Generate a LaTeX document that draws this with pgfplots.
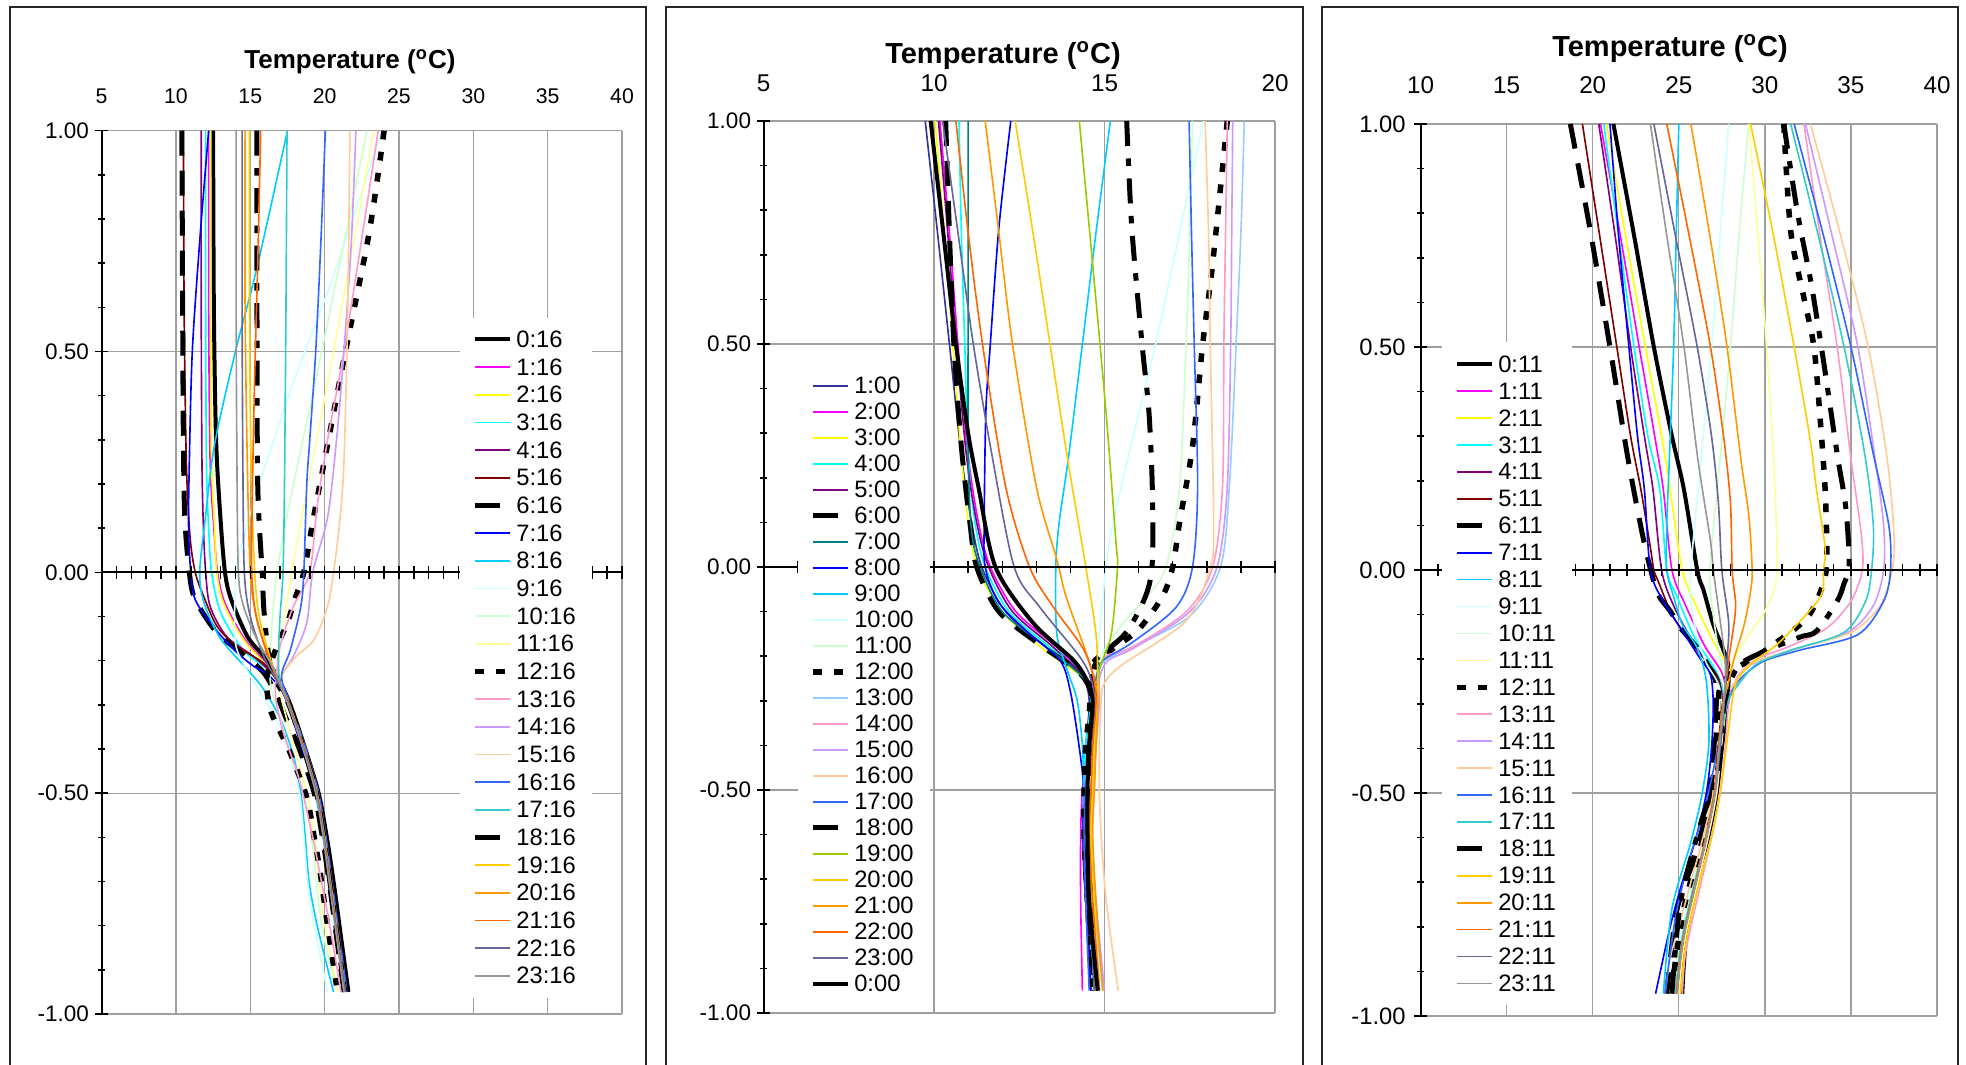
\documentclass[border=0pt]{standalone}
\usepackage{fontspec}
\setmainfont{Liberation Sans}
\usepackage{pgfplots}
\pgfplotsset{compat=1.18}
\definecolor{cMag}{HTML}{FF00FF}
\definecolor{cYel}{HTML}{FFFF00}
\definecolor{cCya}{HTML}{00FFFF}
\definecolor{cPur}{HTML}{800080}
\definecolor{cDred}{HTML}{800000}
\definecolor{cBlu}{HTML}{0000FF}
\definecolor{cSky}{HTML}{00CCFF}
\definecolor{cLtu}{HTML}{CCFFFF}
\definecolor{cLgr}{HTML}{CCFFCC}
\definecolor{cLye}{HTML}{FFFF99}
\definecolor{cRose}{HTML}{FF99CC}
\definecolor{cLav}{HTML}{CC99FF}
\definecolor{cTan}{HTML}{FFCC99}
\definecolor{cRoy}{HTML}{3366FF}
\definecolor{cAqua}{HTML}{33CCCC}
\definecolor{cGold}{HTML}{FFCC00}
\definecolor{cLor}{HTML}{FF9900}
\definecolor{cOr}{HTML}{FF6600}
\definecolor{cBg}{HTML}{666699}
\definecolor{cGr}{HTML}{969696}
\definecolor{cInd}{HTML}{333399}
\definecolor{cTeal}{HTML}{008080}
\definecolor{cPbl}{HTML}{99CCFF}
\definecolor{cLime}{HTML}{99CC00}
\pgfplotsset{
 L0/.style={black,line width=1.6pt,solid},
 L6/.style={black,line width=2pt,dash pattern=on 10pt off 6pt},
 L12/.style={black,line width=2.2pt,dash pattern=on 3.5pt off 5pt},
 L18/.style={black,line width=2pt,dash pattern=on 10pt off 5pt on 3pt off 5pt},
 Lt/.style={line width=0.65pt,solid},
 mainax/.style={anchor=south west, scale only axis, ymin=-1, ymax=1,
   axis x line=box, axis y line=right, axis line style={-, draw=gray!75, line width=0.5pt},
   xticklabel pos=right, xtick style={draw=none},
   ytick={-0.5,0.5}, yticklabels={}, ytick style={draw=none},
   extra y ticks={-1}, extra y tick labels={}, extra y tick style={grid style={gray!75, line width=1.1pt}},
   xmajorgrids, ymajorgrids, grid style={gray!75, line width=0.5pt},
   every axis plot/.append style={no markers, smooth}},
 lineax/.style={anchor=south west, scale only axis, ymin=-1, ymax=1,
   axis x line=middle, axis y line=left, axis line style={-, black, line width=0.75pt},
   xticklabels={}, ytick={-1,-0.5,0,0.5,1}, yticklabels={-1.00,-0.50,0.00,0.50,1.00},
   minor y tick num=4, tick align=center, major tick length=5pt, minor tick length=3pt,
   every tick/.style={black, line width=0.6pt}},
 legax/.style={anchor=south west, scale only axis, ymin=-1, ymax=1, hide axis,
   legend cell align=left,
   legend image code/.code={\draw[##1] (0pt,0pt) -- (14pt,0pt);},
   legend style={anchor=north west, draw=none, fill=white, inner xsep=5pt, inner ysep=5pt,
     font=\fontsize{9.5}{10}\selectfont,
     nodes={inner xsep=1.5pt, inner ysep=0pt, text height=6.9pt, text depth=0.5pt}}},
}
\newcommand{\legimgsA}{%
 \addlegendimage{L0}\addlegendimage{cMag,Lt}\addlegendimage{cYel,Lt}\addlegendimage{cCya,Lt}%
 \addlegendimage{cPur,Lt}\addlegendimage{cDred,Lt}\addlegendimage{L6}\addlegendimage{cBlu,Lt}%
 \addlegendimage{cSky,Lt}\addlegendimage{cLtu,Lt}\addlegendimage{cLgr,Lt}\addlegendimage{cLye,Lt}%
 \addlegendimage{L12}\addlegendimage{cRose,Lt}\addlegendimage{cLav,Lt}\addlegendimage{cTan,Lt}%
 \addlegendimage{cRoy,Lt}\addlegendimage{cAqua,Lt}\addlegendimage{L18}\addlegendimage{cGold,Lt}%
 \addlegendimage{cLor,Lt}\addlegendimage{cOr,Lt}\addlegendimage{cBg,Lt}\addlegendimage{cGr,Lt}}
\begin{document}
\begin{tikzpicture}
% frames
\draw[line width=0.6pt, black!85] (4pt,-2pt) -- (4pt,422.8pt) -- (258.4pt,422.8pt) -- (258.4pt,-2pt);
\draw[line width=0.6pt, black!85] (266.4pt,-2pt) -- (266.4pt,422.8pt) -- (521.2pt,422.8pt) -- (521.2pt,-2pt);
\draw[line width=0.6pt, black!85] (528.8pt,-2pt) -- (528.8pt,422.8pt) -- (783.2pt,422.8pt) -- (783.2pt,-2pt);
\node[font=\bfseries\fontsize{10.4}{12}\selectfont] at (140pt,401pt) {Temperature (\textsuperscript{o}C)};
\node[font=\bfseries\fontsize{11.6}{13}\selectfont] at (401.2pt,403.2pt) {Temperature (\textsuperscript{o}C)};
\node[font=\bfseries\fontsize{11.6}{13}\selectfont] at (668pt,406pt) {Temperature (\textsuperscript{o}C)};

%================ PANEL 1 ================
\begin{axis}[mainax, at={(40.64pt,20pt)}, width=208.16pt, height=353.3pt, xmin=5, xmax=40,
  xtick={5,10,...,40}, xticklabels={5,10,15,20,25,30,35,40},
  xticklabel style={font=\fontsize{8.5}{10}\selectfont, yshift=7.2pt}]
\addplot[L0] coordinates {(12.5,1) (12.55,0.6) (12.7,0.3) (13.0,0.12) (13.3,0) (13.7,-0.06) (14.8,-0.145) (15.9,-0.19) (16.8,-0.235) (17.7,-0.3) (18.7,-0.4) (19.6,-0.5) (20.15,-0.6) (20.6,-0.7) (21.0,-0.8) (21.6,-0.95)};
\addplot[cMag,Lt] coordinates {(12.2,1) (12.2,0.6) (12.3,0.25) (12.55,0.1) (12.8,0) (13.3,-0.07) (14.6,-0.15) (15.9,-0.2) (16.7,-0.24) (17.6,-0.3) (18.6,-0.4) (19.5,-0.5) (20.0,-0.6) (20.4,-0.7) (20.8,-0.8) (21.4,-0.95)};
\addplot[cYel,Lt] coordinates {(12.35,1) (12.35,0.6) (12.4,0.25) (12.6,0.1) (12.75,0) (13.2,-0.07) (14.5,-0.15) (15.8,-0.2) (16.7,-0.24) (17.65,-0.3) (18.65,-0.4) (19.5,-0.5) (20.0,-0.6) (20.4,-0.7) (20.8,-0.8) (21.35,-0.95)};
\addplot[cCya,Lt] coordinates {(12.0,1) (12.0,0.6) (12.05,0.25) (12.2,0.1) (12.4,0) (13.0,-0.09) (14.5,-0.175) (16.2,-0.22) (16.9,-0.25) (17.6,-0.3) (18.5,-0.4) (19.35,-0.5) (19.9,-0.6) (20.3,-0.7) (20.7,-0.8) (21.3,-0.95)};
\addplot[cPur,Lt] coordinates {(11.7,1) (11.7,0.6) (11.75,0.25) (11.85,0.1) (12.0,0) (12.3,-0.077) (13.4,-0.145) (15.2,-0.19) (16.6,-0.235) (17.6,-0.3) (18.6,-0.4) (19.45,-0.5) (19.95,-0.6) (20.35,-0.7) (20.75,-0.8) (21.35,-0.95)};
\addplot[cDred,Lt] coordinates {(10.5,1) (10.55,0.6) (10.7,0.25) (10.95,0.08) (11.3,0) (11.86,-0.054) (12.76,-0.122) (14.1,-0.167) (16.1,-0.212) (17.3,-0.28) (18.5,-0.4) (19.4,-0.5) (19.95,-0.6) (20.35,-0.7) (20.75,-0.8) (21.35,-0.95)};
\addplot[L6] coordinates {(10.4,1) (10.45,0.6) (10.5,0.3) (10.6,0.12) (10.9,0) (11.2,-0.054) (12.1,-0.107) (13.0,-0.145) (14.4,-0.182) (15.9,-0.227) (16.8,-0.28) (17.4,-0.33) (18.3,-0.4) (19.3,-0.5) (19.85,-0.6) (20.3,-0.7) (20.7,-0.8) (21.3,-0.95)};
\addplot[cBlu,Lt] coordinates {(12.2,1) (11.6,0.75) (11.1,0.5) (10.9,0.25) (10.85,0.1) (11.0,0) (11.3,-0.062) (12.5,-0.122) (13.9,-0.175) (15.2,-0.212) (16.3,-0.235) (17.3,-0.28) (18.5,-0.4) (19.45,-0.5) (20.0,-0.6) (20.4,-0.7) (20.8,-0.8) (21.4,-0.95)};
\addplot[cSky,Lt] coordinates {(17.5,1) (15.45,0.69) (14.0,0.5) (12.6,0.29) (12.0,0.13) (11.6,0) (11.9,-0.07) (13.0,-0.15) (15.0,-0.227) (15.9,-0.265) (17.0,-0.33) (17.9,-0.415) (18.4,-0.5) (18.7,-0.6) (18.95,-0.7) (19.5,-0.8) (20.6,-0.95)};
\addplot[cLtu,Lt] coordinates {(23.85,1) (21.9,0.8) (19.93,0.61) (17.9,0.43) (15.7,0.21) (14.4,0.06) (14.05,0) (13.95,-0.1) (14.1,-0.175) (15.45,-0.26) (17.0,-0.35) (18.25,-0.49) (18.6,-0.6) (18.85,-0.7) (19.3,-0.8) (20.2,-0.95)};
\addplot[cLgr,Lt] coordinates {(22.85,1) (19.8,0.5) (17.6,0.15) (16.8,0) (16.5,-0.1) (16.3,-0.2) (16.4,-0.26) (17.0,-0.33) (17.8,-0.42) (18.6,-0.5) (19.2,-0.62) (19.6,-0.75) (20.1,-0.85) (20.9,-0.95)};
\addplot[cLye,Lt] coordinates {(23.3,1) (20.6,0.5) (18.6,0.15) (17.8,0) (17.3,-0.1) (16.9,-0.2) (16.8,-0.24) (17.2,-0.3) (18.0,-0.4) (18.8,-0.5) (19.4,-0.62) (19.8,-0.75) (20.3,-0.85) (20.9,-0.95)};
\addplot[L12] coordinates {(24.0,1) (23.0,0.77) (21.4,0.5) (20.2,0.29) (19.26,0.125) (18.6,0) (18.0,-0.06) (17.5,-0.114) (16.8,-0.167) (16.1,-0.24) (16.35,-0.31) (17.0,-0.36) (17.7,-0.41) (18.8,-0.51) (19.3,-0.6) (19.7,-0.68) (20.2,-0.8) (20.8,-0.935)};
\addplot[cRose,Lt] coordinates {(23.6,1) (22.7,0.8) (21.3,0.5) (20.2,0.3) (19.5,0.15) (19.0,0) (17.9,-0.077) (17.0,-0.167) (16.8,-0.22) (16.7,-0.28) (17.2,-0.36) (18.3,-0.47) (19.2,-0.6) (19.9,-0.72) (20.5,-0.83) (21.1,-0.95)};
\addplot[cLav,Lt] coordinates {(22.1,1) (21.8,0.75) (21.3,0.5) (20.8,0.3) (20.2,0.125) (19.2,0) (18.8,-0.114) (17.9,-0.19) (17.1,-0.24) (17.7,-0.3) (18.7,-0.4) (19.5,-0.5) (20.0,-0.6) (20.4,-0.7) (20.8,-0.8) (21.4,-0.95)};
\addplot[cTan,Lt] coordinates {(21.7,1) (21.6,0.7) (21.5,0.5) (21.3,0.25) (21.05,0.125) (20.6,0) (20.2,-0.077) (19.3,-0.152) (18.1,-0.19) (17.1,-0.24) (17.6,-0.3) (18.7,-0.4) (19.5,-0.5) (20.0,-0.6) (20.4,-0.7) (20.8,-0.8) (21.4,-0.95)};
\addplot[cRoy,Lt] coordinates {(20.05,1) (19.75,0.75) (19.4,0.5) (19.0,0.3) (18.8,0.2) (18.6,0) (18.4,-0.077) (17.7,-0.175) (17.1,-0.235) (17.7,-0.3) (18.75,-0.4) (19.6,-0.5) (20.1,-0.6) (20.5,-0.7) (20.9,-0.8) (21.5,-0.95)};
\addplot[cAqua,Lt] coordinates {(17.47,1) (17.4,0.6) (17.3,0.2) (17.2,0) (17.0,-0.1) (16.9,-0.19) (17.0,-0.25) (17.6,-0.3) (18.6,-0.4) (19.45,-0.5) (19.95,-0.6) (20.35,-0.7) (20.75,-0.8) (21.35,-0.95)};
\addplot[L18] coordinates {(15.45,1) (15.45,0.6) (15.5,0.2) (15.8,0) (15.9,-0.077) (16.1,-0.15) (16.35,-0.21) (16.8,-0.25) (17.6,-0.3) (18.6,-0.4) (19.45,-0.5) (19.95,-0.6) (20.35,-0.7) (20.75,-0.8) (21.35,-0.95)};
\addplot[cGold,Lt] coordinates {(14.95,1) (14.95,0.6) (15.05,0.25) (15.3,0) (15.6,-0.1) (16.3,-0.19) (16.8,-0.24) (17.6,-0.3) (18.6,-0.4) (19.45,-0.5) (19.95,-0.6) (20.35,-0.7) (20.75,-0.8) (21.3,-0.95)};
\addplot[cLor,Lt] coordinates {(14.65,1) (14.65,0.6) (14.8,0.25) (15.0,0) (15.4,-0.1) (16.2,-0.19) (16.8,-0.24) (17.65,-0.3) (18.65,-0.4) (19.5,-0.5) (20.0,-0.6) (20.4,-0.7) (20.8,-0.8) (21.4,-0.95)};
\addplot[cOr,Lt] coordinates {(15.7,1) (15.5,0.7) (15.3,0.45) (15.15,0.2) (15.1,0) (15.4,-0.1) (16.2,-0.19) (16.8,-0.24) (17.6,-0.3) (18.6,-0.4) (19.45,-0.5) (19.95,-0.6) (20.35,-0.7) (20.75,-0.8) (21.35,-0.95)};
\addplot[cBg,Lt] coordinates {(14.45,1) (14.45,0.6) (14.5,0.25) (14.6,0) (15.0,-0.1) (15.9,-0.19) (16.7,-0.24) (17.6,-0.3) (18.6,-0.4) (19.45,-0.5) (19.95,-0.6) (20.35,-0.7) (20.75,-0.8) (21.4,-0.95)};
\addplot[cGr,Lt] coordinates {(14.05,1) (14.05,0.6) (14.1,0.25) (14.2,0) (14.55,-0.077) (15.45,-0.152) (16.6,-0.22) (17.55,-0.3) (18.55,-0.4) (19.4,-0.5) (19.9,-0.6) (20.3,-0.7) (20.7,-0.8) (21.3,-0.95)};
\end{axis}
\begin{axis}[lineax, at={(40.64pt,20pt)}, width=208.16pt, height=353.3pt, xmin=5, xmax=40,
  xtick={5,6,...,40}, yticklabel style={font=\fontsize{9}{10}\selectfont, xshift=1pt}]
\addplot[draw=none] coordinates {(10,0)};
\end{axis}
\begin{axis}[legax, at={(40.64pt,20pt)}, width=208.16pt, height=353.3pt, xmin=5, xmax=40,
  legend style={at={(0.687,0.789)}, row sep=3.67pt}]
\addplot[draw=none, forget plot] coordinates {(10,0)};
\legimgsA
\legend{0:16,1:16,2:16,3:16,4:16,5:16,6:16,7:16,8:16,9:16,10:16,11:16,12:16,13:16,14:16,15:16,16:16,17:16,18:16,19:16,20:16,21:16,22:16,23:16}
\end{axis}

%================ PANEL 2 ================
\begin{axis}[mainax, at={(305.44pt,20.4pt)}, width=204.56pt, height=356.8pt, xmin=5, xmax=20,
  xtick={5,10,15,20}, xticklabels={5,10,15,20},
  xticklabel style={font=\fontsize{9.7}{11}\selectfont, yshift=8.3pt}]
\addplot[cInd,Lt] coordinates {(9.74,1) (10.1,0.75) (10.45,0.5) (10.8,0.25) (11.1,0.1) (11.4,0) (12.1,-0.1) (13.3,-0.18) (14.3,-0.24) (14.55,-0.3) (14.45,-0.4) (14.4,-0.5) (14.35,-0.6) (14.45,-0.75) (14.7,-0.95)};
\addplot[cMag,Lt] coordinates {(10.17,1) (10.45,0.75) (10.7,0.5) (11.0,0.25) (11.3,0.1) (11.65,0) (12.4,-0.1) (13.6,-0.18) (14.5,-0.25) (14.65,-0.3) (14.5,-0.4) (14.35,-0.5) (14.3,-0.6) (14.3,-0.75) (14.35,-0.95)};
\addplot[cYel,Lt] coordinates {(10.03,1) (10.3,0.75) (10.55,0.5) (10.8,0.25) (11.0,0.1) (11.27,0) (12.0,-0.1) (13.3,-0.19) (14.4,-0.25) (14.7,-0.3) (14.6,-0.4) (14.5,-0.5) (14.45,-0.6) (14.55,-0.75) (14.75,-0.95)};
\addplot[cCya,Lt] coordinates {(10.73,1) (10.8,0.75) (10.9,0.5) (11.0,0.25) (11.2,0.1) (11.5,0) (12.2,-0.1) (13.4,-0.18) (14.4,-0.24) (14.6,-0.3) (14.45,-0.4) (14.4,-0.5) (14.4,-0.6) (14.5,-0.75) (14.7,-0.95)};
\addplot[cPur,Lt] coordinates {(10.13,1) (10.4,0.75) (10.65,0.5) (10.95,0.25) (11.25,0.1) (11.6,0) (12.3,-0.1) (13.5,-0.18) (14.45,-0.25) (14.7,-0.3) (14.6,-0.4) (14.5,-0.5) (14.45,-0.6) (14.5,-0.75) (14.6,-0.95)};
\addplot[L6] coordinates {(10.34,1) (10.45,0.75) (10.58,0.5) (10.8,0.27) (11.05,0.1) (11.25,0) (11.9,-0.1) (13.1,-0.174) (14.3,-0.24) (14.65,-0.3) (14.55,-0.4) (14.5,-0.5) (14.45,-0.6) (14.55,-0.75) (14.7,-0.95)};
\addplot[cTeal,Lt] coordinates {(11.0,1) (11.0,0.6) (11.0,0.25) (11.1,0.08) (11.35,0) (12.0,-0.1) (13.3,-0.18) (14.4,-0.25) (14.7,-0.3) (14.6,-0.4) (14.5,-0.5) (14.5,-0.6) (14.55,-0.75) (14.75,-0.95)};
\addplot[cBlu,Lt] coordinates {(12.25,1) (11.9,0.76) (11.65,0.5) (11.52,0.35) (11.47,0.1) (11.5,0) (11.9,-0.08) (12.8,-0.15) (13.7,-0.21) (14.0,-0.28) (14.25,-0.4) (14.4,-0.5) (14.4,-0.6) (14.45,-0.75) (14.6,-0.95)};
\addplot[cSky,Lt] coordinates {(15.17,1) (14.75,0.75) (14.35,0.5) (13.95,0.25) (13.67,0.1) (13.57,0) (13.6,-0.15) (13.9,-0.23) (14.2,-0.3) (14.35,-0.4) (14.4,-0.5) (14.45,-0.6) (14.55,-0.75) (14.7,-0.95)};
\addplot[cLtu,Lt] coordinates {(17.9,1) (17.2,0.75) (16.5,0.5) (15.7,0.25) (15.2,0.08) (15.04,0) (14.85,-0.15) (14.75,-0.25) (14.8,-0.3) (14.75,-0.4) (14.65,-0.5) (14.6,-0.6) (14.7,-0.75) (14.9,-0.95)};
\addplot[cLgr,Lt] coordinates {(17.58,1) (17.5,0.75) (17.39,0.5) (17.2,0.18) (16.8,0) (16.2,-0.07) (15.5,-0.13) (14.9,-0.2) (14.75,-0.25) (14.8,-0.3) (14.7,-0.4) (14.6,-0.5) (14.55,-0.6) (14.65,-0.75) (14.85,-0.95)};
\addplot[L12] coordinates {(18.6,1) (18.17,0.68) (17.88,0.5) (17.58,0.27) (17.2,0.1) (17.0,0) (16.7,-0.066) (16.0,-0.14) (15.3,-0.18) (14.75,-0.216) (14.6,-0.27) (14.55,-0.33) (14.45,-0.4) (14.4,-0.5) (14.4,-0.6) (14.5,-0.75) (14.65,-0.95)};
\addplot[cPbl,Lt] coordinates {(19.1,1) (19.0,0.75) (18.86,0.5) (18.66,0.18) (18.4,0) (17.5,-0.11) (15.8,-0.18) (15.0,-0.21) (14.8,-0.25) (14.85,-0.3) (14.75,-0.4) (14.65,-0.5) (14.6,-0.6) (14.7,-0.75) (14.95,-0.95)};
\addplot[cRose,Lt] coordinates {(18.6,1) (18.55,0.75) (18.5,0.5) (18.46,0.18) (18.17,0) (17.4,-0.1) (15.8,-0.18) (15.04,-0.2) (14.8,-0.24) (14.8,-0.3) (14.7,-0.4) (14.6,-0.5) (14.55,-0.6) (14.6,-0.75) (14.75,-0.95)};
\addplot[cLav,Lt] coordinates {(18.76,1) (18.73,0.75) (18.7,0.5) (18.6,0.18) (18.3,0) (17.5,-0.1) (15.9,-0.18) (15.1,-0.21) (14.85,-0.25) (14.85,-0.3) (14.75,-0.4) (14.7,-0.5) (14.65,-0.6) (14.75,-0.75) (15.0,-0.95)};
\addplot[cTan,Lt] coordinates {(17.95,1) (18.05,0.75) (18.1,0.5) (18.2,0.1) (18.1,0) (17.4,-0.12) (15.5,-0.22) (15.0,-0.26) (14.9,-0.3) (14.85,-0.4) (14.85,-0.5) (14.9,-0.6) (15.05,-0.75) (15.4,-0.95)};
\addplot[cRoy,Lt] coordinates {(17.48,1) (17.55,0.75) (17.63,0.5) (17.73,0.18) (17.58,0) (17.1,-0.09) (15.8,-0.17) (14.95,-0.21) (14.75,-0.25) (14.7,-0.3) (14.55,-0.4) (14.45,-0.5) (14.4,-0.6) (14.45,-0.75) (14.55,-0.95)};
\addplot[L18] coordinates {(15.65,1) (15.8,0.76) (16.1,0.5) (16.3,0.35) (16.4,0.18) (16.4,0.01) (16.2,-0.066) (15.6,-0.15) (14.65,-0.216) (14.7,-0.27) (14.7,-0.33) (14.6,-0.4) (14.55,-0.5) (14.5,-0.6) (14.6,-0.75) (14.8,-0.95)};
\addplot[cLime,Lt] coordinates {(14.26,1) (14.65,0.68) (15.04,0.35) (15.33,0.06) (15.38,0) (15.2,-0.15) (14.85,-0.23) (14.8,-0.3) (14.7,-0.4) (14.6,-0.5) (14.55,-0.6) (14.6,-0.75) (14.7,-0.95)};
\addplot[cGold,Lt] coordinates {(12.38,1) (12.9,0.75) (13.4,0.5) (13.9,0.25) (14.45,0) (14.75,-0.15) (14.8,-0.25) (14.8,-0.3) (14.7,-0.4) (14.65,-0.5) (14.6,-0.6) (14.7,-0.75) (14.85,-0.95)};
\addplot[cLor,Lt] coordinates {(11.5,1) (11.9,0.75) (12.3,0.5) (13.0,0.18) (13.6,0.017) (13.87,-0.066) (14.45,-0.19) (14.7,-0.25) (14.8,-0.3) (14.75,-0.4) (14.7,-0.5) (14.65,-0.6) (14.75,-0.75) (14.95,-0.95)};
\addplot[cOr,Lt] coordinates {(10.64,1) (11.0,0.75) (11.42,0.5) (12.1,0.18) (12.8,0) (13.5,-0.09) (14.35,-0.18) (14.65,-0.24) (14.75,-0.3) (14.65,-0.4) (14.6,-0.5) (14.55,-0.6) (14.65,-0.75) (14.85,-0.95)};
\addplot[cBg,Lt] coordinates {(10.25,1) (10.7,0.75) (11.15,0.5) (11.7,0.25) (12.35,0) (13.1,-0.09) (14.26,-0.2) (14.6,-0.25) (14.7,-0.3) (14.6,-0.4) (14.5,-0.5) (14.45,-0.6) (14.55,-0.75) (14.7,-0.95)};
\addplot[L0] coordinates {(9.9,1) (10.27,0.75) (10.64,0.5) (11.0,0.3) (11.3,0.18) (11.8,0) (12.9,-0.125) (14.06,-0.207) (14.45,-0.25) (14.65,-0.3) (14.55,-0.4) (14.5,-0.5) (14.5,-0.6) (14.55,-0.75) (14.8,-0.95)};
\end{axis}
\begin{axis}[lineax, at={(305.44pt,20.4pt)}, width=204.56pt, height=356.8pt, xmin=5, xmax=20,
  xtick={5,6,...,20}, yticklabel style={font=\fontsize{9}{10}\selectfont, xshift=1pt}]
\addplot[draw=none] coordinates {(10,0)};
\end{axis}
\begin{axis}[legax, at={(305.44pt,20.4pt)}, width=204.56pt, height=356.8pt, xmin=5, xmax=20,
  legend style={at={(0.0653,0.728)}, row sep=3.0pt}]
\addplot[draw=none, forget plot] coordinates {(10,0)};
\addlegendimage{cInd,Lt}\addlegendimage{cMag,Lt}\addlegendimage{cYel,Lt}\addlegendimage{cCya,Lt}
\addlegendimage{cPur,Lt}\addlegendimage{L6}\addlegendimage{cTeal,Lt}\addlegendimage{cBlu,Lt}
\addlegendimage{cSky,Lt}\addlegendimage{cLtu,Lt}\addlegendimage{cLgr,Lt}\addlegendimage{L12}
\addlegendimage{cPbl,Lt}\addlegendimage{cRose,Lt}\addlegendimage{cLav,Lt}\addlegendimage{cTan,Lt}
\addlegendimage{cRoy,Lt}\addlegendimage{L18}\addlegendimage{cLime,Lt}\addlegendimage{cGold,Lt}
\addlegendimage{cLor,Lt}\addlegendimage{cOr,Lt}\addlegendimage{cBg,Lt}\addlegendimage{L0}
\legend{1:00,2:00,3:00,4:00,5:00,6:00,7:00,8:00,9:00,10:00,11:00,12:00,13:00,14:00,15:00,16:00,17:00,18:00,19:00,20:00,21:00,22:00,23:00,0:00}
\end{axis}

%================ PANEL 3 ================
\begin{axis}[mainax, at={(568.24pt,19.2pt)}, width=206.56pt, height=356.8pt, xmin=10, xmax=40,
  xtick={10,15,...,40}, xticklabels={10,15,20,25,30,35,40},
  xticklabel style={font=\fontsize{9.7}{11}\selectfont, yshift=8.6pt}]
\addplot[L0] coordinates {(21.2,1) (22.4,0.75) (23.55,0.5) (24.6,0.3) (25.3,0.18) (26.07,0) (26.45,-0.047) (27.0,-0.122) (27.6,-0.18) (27.9,-0.22) (27.8,-0.3) (27.5,-0.4) (27.2,-0.5) (26.7,-0.6) (26.0,-0.7) (25.5,-0.8) (25.3,-0.88) (25.2,-0.95)};
\addplot[cMag,Lt] coordinates {(20.45,1) (21.6,0.75) (22.7,0.5) (23.6,0.3) (24.1,0.18) (24.6,0) (25.4,-0.08) (26.5,-0.17) (27.5,-0.23) (27.7,-0.28) (27.45,-0.4) (27.2,-0.5) (26.7,-0.6) (26.1,-0.7) (25.5,-0.8) (25.2,-0.87) (25.0,-0.95)};
\addplot[cYel,Lt] coordinates {(20.8,1) (21.9,0.75) (23.06,0.5) (24.0,0.3) (24.5,0.18) (25.2,0) (26.0,-0.08) (27.0,-0.16) (27.8,-0.22) (27.75,-0.3) (27.45,-0.4) (27.15,-0.5) (26.65,-0.6) (26.05,-0.7) (25.45,-0.8) (25.15,-0.87) (25.0,-0.95)};
\addplot[cCya,Lt] coordinates {(20.64,1) (21.5,0.75) (22.4,0.5) (23.2,0.3) (23.9,0.18) (24.3,0) (24.9,-0.06) (25.9,-0.15) (27.2,-0.23) (27.55,-0.28) (27.3,-0.4) (27.0,-0.5) (26.5,-0.6) (25.9,-0.7) (25.3,-0.8) (25.0,-0.87) (24.8,-0.95)};
\addplot[cPur,Lt] coordinates {(20.35,1) (21.3,0.75) (22.2,0.5) (23.0,0.3) (23.5,0.18) (24.0,0) (24.7,-0.08) (25.8,-0.16) (27.0,-0.23) (27.5,-0.28) (27.35,-0.4) (27.1,-0.5) (26.6,-0.6) (26.0,-0.7) (25.4,-0.8) (25.1,-0.87) (24.9,-0.95)};
\addplot[cDred,Lt] coordinates {(19.4,1) (20.4,0.75) (21.4,0.5) (22.2,0.3) (22.8,0.18) (23.35,0.05) (23.55,0) (23.8,-0.025) (24.7,-0.107) (26.07,-0.18) (27.2,-0.235) (27.45,-0.28) (27.35,-0.4) (27.1,-0.5) (26.6,-0.6) (26.0,-0.7) (25.4,-0.8) (25.1,-0.87) (24.95,-0.95)};
\addplot[L6] coordinates {(18.7,1) (19.86,0.76) (21.0,0.5) (22.0,0.26) (22.8,0.096) (23.3,0.01) (23.8,-0.055) (24.5,-0.092) (25.1,-0.13) (26.07,-0.175) (27.0,-0.235) (27.2,-0.27) (27.13,-0.333) (27.0,-0.42) (26.65,-0.535) (25.87,-0.648) (24.9,-0.76) (24.4,-0.91) (24.3,-0.95)};
\addplot[cBlu,Lt] coordinates {(21.0,1) (21.5,0.75) (22.1,0.5) (22.6,0.3) (23.0,0.18) (23.35,0) (24.1,-0.07) (25.1,-0.13) (26.26,-0.2) (26.84,-0.235) (27.0,-0.3) (26.9,-0.4) (26.6,-0.5) (26.0,-0.6) (25.2,-0.7) (24.5,-0.8) (23.65,-0.95)};
\addplot[cSky,Lt] coordinates {(25.0,1) (24.85,0.75) (24.7,0.5) (24.45,0.25) (24.3,0.1) (24.3,0) (24.7,-0.06) (25.2,-0.122) (26.07,-0.175) (26.6,-0.25) (26.75,-0.385) (26.36,-0.5) (25.7,-0.61) (24.6,-0.76) (24.1,-0.95)};
\addplot[cLtu,Lt] coordinates {(27.9,1) (27.4,0.75) (26.9,0.5) (26.3,0.25) (25.7,0) (25.8,-0.1) (26.5,-0.2) (27.4,-0.27) (27.4,-0.4) (27.1,-0.5) (26.5,-0.6) (25.8,-0.7) (25.2,-0.8) (24.9,-0.87) (24.7,-0.95)};
\addplot[cLgr,Lt] coordinates {(29.05,1) (28.5,0.75) (28.0,0.5) (27.4,0.25) (26.8,0) (27.0,-0.1) (27.4,-0.2) (27.8,-0.26) (27.6,-0.3) (27.35,-0.4) (27.1,-0.5) (26.6,-0.6) (26.0,-0.7) (25.4,-0.8) (25.1,-0.87) (24.9,-0.95)};
\addplot[cLye,Lt] coordinates {(29.07,1) (29.6,0.75) (30.1,0.5) (30.5,0.25) (30.7,0) (30.1,-0.085) (28.8,-0.16) (28.0,-0.22) (27.8,-0.27) (27.45,-0.4) (27.2,-0.5) (26.7,-0.6) (26.1,-0.7) (25.5,-0.8) (25.2,-0.87) (25.0,-0.95)};
\addplot[L12] coordinates {(31.1,1) (31.5,0.76) (32.27,0.61) (32.85,0.5) (33.2,0.345) (33.5,0.18) (33.6,0.03) (33.4,-0.03) (32.46,-0.107) (30.5,-0.167) (29.26,-0.2) (28.2,-0.224) (27.4,-0.265) (27.3,-0.3) (27.2,-0.355) (27.1,-0.42) (26.8,-0.53) (26.2,-0.63) (25.4,-0.74) (24.9,-0.85) (24.6,-0.94)};
\addplot[cRose,Lt] coordinates {(32.27,1) (33.2,0.75) (34.2,0.5) (35.0,0.25) (35.6,0.08) (35.66,0) (35.0,-0.07) (33.6,-0.13) (31.5,-0.17) (29.5,-0.2) (28.4,-0.24) (27.9,-0.3) (27.7,-0.4) (27.4,-0.5) (26.9,-0.6) (26.3,-0.7) (25.7,-0.8) (25.35,-0.87) (25.2,-0.95)};
\addplot[cLav,Lt] coordinates {(32.36,1) (33.9,0.75) (35.4,0.5) (36.4,0.25) (36.9,0.1) (36.9,0) (36.3,-0.08) (34.8,-0.14) (31.5,-0.18) (29.3,-0.21) (28.3,-0.25) (27.7,-0.3) (27.4,-0.4) (27.1,-0.5) (26.6,-0.6) (26.0,-0.7) (25.4,-0.8) (25.1,-0.87) (24.9,-0.95)};
\addplot[cTan,Lt] coordinates {(32.65,1) (34.4,0.75) (36.0,0.5) (37.1,0.25) (37.5,0.08) (37.4,0) (36.7,-0.08) (35.0,-0.14) (31.5,-0.18) (29.2,-0.21) (28.3,-0.25) (27.6,-0.3) (27.3,-0.4) (27.0,-0.5) (26.4,-0.6) (25.7,-0.7) (25.0,-0.8) (24.5,-0.87) (24.2,-0.95)};
\addplot[cRoy,Lt] coordinates {(31.7,1) (33.4,0.75) (35.0,0.5) (36.3,0.26) (37.2,0.1) (37.3,0) (36.9,-0.07) (35.4,-0.145) (32.0,-0.18) (29.9,-0.205) (28.6,-0.243) (28.0,-0.28) (27.5,-0.35) (27.0,-0.45) (26.4,-0.55) (25.6,-0.65) (24.8,-0.78) (24.2,-0.95)};
\addplot[cAqua,Lt] coordinates {(31.5,1) (33.1,0.75) (34.6,0.5) (35.8,0.26) (36.3,0.1) (36.2,0) (35.85,-0.07) (34.6,-0.14) (31.5,-0.18) (29.55,-0.21) (28.6,-0.25) (27.8,-0.3) (27.4,-0.4) (27.1,-0.5) (26.6,-0.6) (26.0,-0.7) (25.4,-0.8) (25.1,-0.87) (24.85,-0.95)};
\addplot[L18] coordinates {(31.1,1) (31.9,0.8) (32.7,0.64) (33.4,0.47) (34.2,0.26) (34.7,0.14) (34.9,0.01) (34.6,-0.03) (34.2,-0.07) (33.0,-0.137) (32.07,-0.15) (30.1,-0.18) (28.6,-0.21) (28.0,-0.25) (27.6,-0.31) (27.2,-0.46) (26.26,-0.57) (25.1,-0.745) (24.6,-0.95)};
\addplot[cGold,Lt] coordinates {(29.17,1) (30.5,0.75) (31.7,0.5) (32.6,0.3) (33.0,0.18) (33.5,0.05) (33.4,0) (33.2,-0.062) (30.9,-0.16) (29.36,-0.205) (28.6,-0.235) (28.2,-0.27) (27.8,-0.385) (27.4,-0.5) (26.9,-0.6) (26.2,-0.7) (25.6,-0.8) (25.3,-0.87) (25.1,-0.95)};
\addplot[cLor,Lt] coordinates {(25.7,1) (26.8,0.75) (27.8,0.5) (28.6,0.25) (29.07,0.12) (29.26,0) (29.17,-0.047) (28.8,-0.122) (28.2,-0.2) (27.9,-0.25) (27.6,-0.3) (27.35,-0.4) (27.1,-0.5) (26.6,-0.6) (26.0,-0.7) (25.4,-0.8) (25.1,-0.87) (24.9,-0.95)};
\addplot[cOr,Lt] coordinates {(24.3,1) (25.6,0.75) (26.84,0.5) (27.6,0.3) (28.0,0.15) (28.1,0) (28.3,-0.075) (28.2,-0.122) (27.9,-0.2) (27.75,-0.25) (27.55,-0.3) (27.3,-0.4) (27.05,-0.5) (26.55,-0.6) (25.95,-0.7) (25.35,-0.8) (25.05,-0.87) (24.85,-0.95)};
\addplot[cBg,Lt] coordinates {(23.55,1) (24.8,0.75) (26.07,0.5) (26.9,0.3) (27.3,0.15) (27.5,0) (27.9,-0.12) (27.8,-0.2) (27.7,-0.27) (27.4,-0.4) (27.1,-0.5) (26.6,-0.6) (26.0,-0.7) (25.4,-0.8) (25.1,-0.87) (24.9,-0.95)};
\addplot[cGr,Lt] coordinates {(23.35,1) (24.3,0.75) (25.3,0.5) (26.1,0.25) (26.84,0.065) (27.0,0) (27.3,-0.085) (27.7,-0.21) (27.6,-0.3) (27.35,-0.4) (27.1,-0.5) (26.6,-0.6) (26.0,-0.7) (25.4,-0.8) (25.1,-0.87) (24.9,-0.95)};
\end{axis}
\begin{axis}[lineax, at={(568.24pt,19.2pt)}, width=206.56pt, height=356.8pt, xmin=10, xmax=40,
  xtick={10,11,...,40}, yticklabel style={font=\fontsize{9.5}{10}\selectfont}]
\addplot[draw=none] coordinates {(20,0)};
\end{axis}
\begin{axis}[legax, at={(568.24pt,19.2pt)}, width=206.56pt, height=356.8pt, xmin=10, xmax=40,
  legend style={at={(0.0395,0.7556)}, row sep=3.37pt}]
\addplot[draw=none, forget plot] coordinates {(20,0)};
\legimgsA
\legend{0:11,1:11,2:11,3:11,4:11,5:11,6:11,7:11,8:11,9:11,10:11,11:11,12:11,13:11,14:11,15:11,16:11,17:11,18:11,19:11,20:11,21:11,22:11,23:11}
\end{axis}
\pgfresetboundingbox
\useasboundingbox (0,0) rectangle (786.4pt,425.6pt);
\end{tikzpicture}
\end{document}
